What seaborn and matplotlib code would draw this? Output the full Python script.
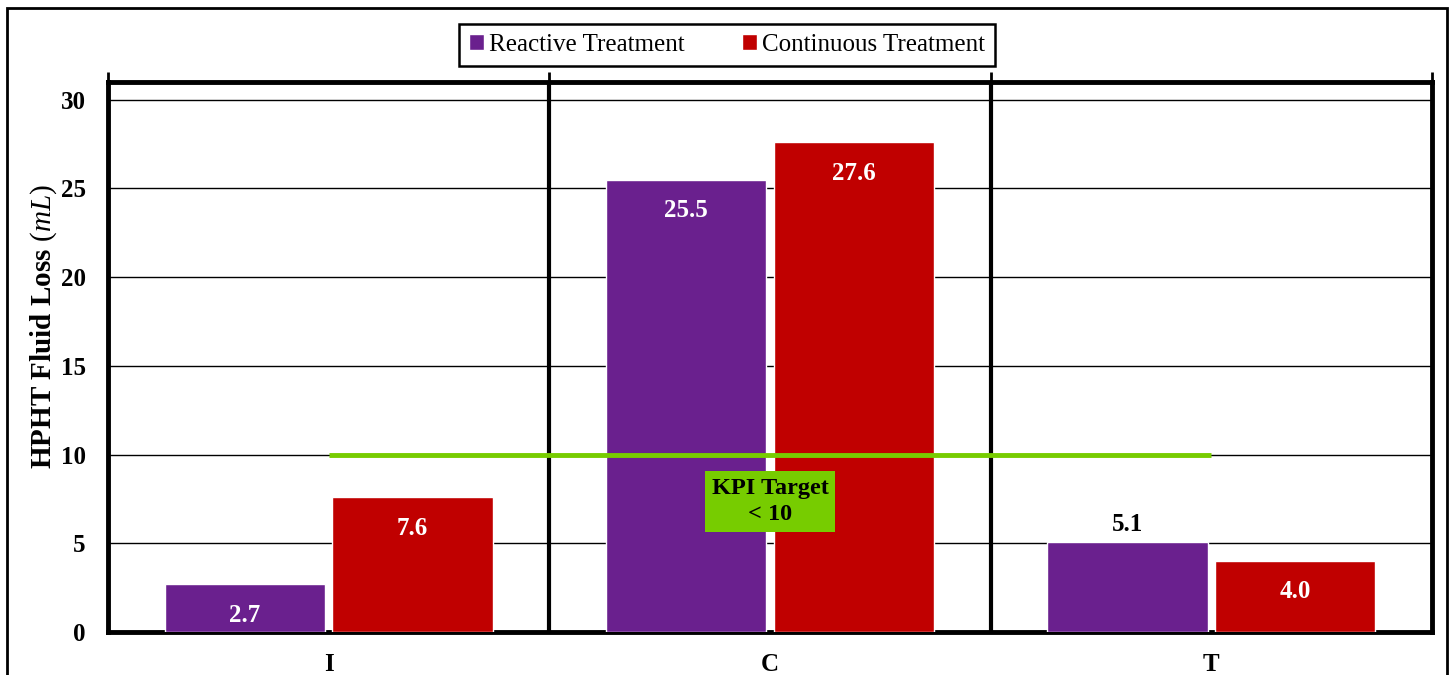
import matplotlib
matplotlib.use("Agg")
import matplotlib.pyplot as plt
from matplotlib.patches import Rectangle
from matplotlib.ticker import FixedLocator
import seaborn as sns
import pandas as pd

# HPHT fluid loss per well section
wells = ["I", "C", "T"]
reactive = [2.7, 25.5, 5.1]
continuous = [7.6, 27.6, 4.0]
series_names = ["Reactive Treatment", "Continuous Treatment"]
kpi_target = 10
y_ticks = [0, 5, 10, 15, 20, 25, 30]

purple = "#6A208E"
red = "#C00000"
green = "#77CC00"

df = pd.DataFrame({
    "Well": wells * 2,
    "Loss": reactive + continuous,
    "Treatment": [series_names[0]] * len(wells) + [series_names[1]] * len(wells),
})

sns.set_theme(style="white")
plt.rcParams["font.family"] = ["Liberation Serif", "DejaVu Serif"]
plt.rcParams["mathtext.fontset"] = "custom"
plt.rcParams["mathtext.it"] = "Liberation Serif:italic"
plt.rcParams["mathtext.rm"] = "Liberation Serif"
plt.rcParams["text.color"] = "black"
plt.rcParams["axes.labelcolor"] = "black"
plt.rcParams["xtick.color"] = "black"
plt.rcParams["ytick.color"] = "black"

fig = plt.figure(figsize=(14.52, 6.75), dpi=100)
ax = fig.add_axes([108 / 1452, 1 - 632 / 675, (1432 - 108) / 1452, (632 - 82) / 675])

sns.barplot(data=df, x="Well", y="Loss", hue="Treatment", order=wells,
            hue_order=series_names, palette=[purple, red], saturation=1,
            width=0.76, gap=0.045, ax=ax, legend=True, zorder=3)

ax.set_xlim(-0.5, 2.5)
ax.set_ylim(0, 31)
ax.set_yticks(y_ticks)
ax.grid(axis="y", color="black", linewidth=1.0, zorder=0)
ax.grid(axis="x", visible=False)

for s in ax.spines.values():
    s.set_color("black")
    s.set_linewidth(3.5)

# category separators
for xb in [0.5, 1.5]:
    ax.axvline(xb, color="black", linewidth=3, zorder=4)
ax.xaxis.set_minor_locator(FixedLocator([-0.5, 0.5, 1.5, 2.5]))
ax.tick_params(axis="x", which="minor", top=True, bottom=False, direction="out",
               length=7, width=2, color="black")
ax.tick_params(axis="x", which="major", length=0, pad=15, labelsize=18)
ax.tick_params(axis="y", length=0, pad=16, labelsize=18)
for lab in ax.get_xticklabels() + ax.get_yticklabels():
    lab.set_fontweight("bold")

ax.set_xlabel("")
ax.set_ylabel("HPHT Fluid Loss $\\mathit{(mL)}$", fontsize=21, fontweight="bold")
ax.yaxis.set_label_coords(-0.037, 0.555)

# value labels
for container, values in zip(ax.containers, [reactive, continuous]):
    for bar, v in zip(container, values):
        xc = bar.get_x() + bar.get_width() / 2
        if v == 5.1:
            ax.annotate(f"{v:.1f}", (xc, v), xytext=(0, 4), textcoords="offset points",
                        ha="center", va="bottom", fontsize=18, fontweight="bold",
                        color="black", zorder=6)
        else:
            ax.annotate(f"{v:.1f}", (xc, v), xytext=(0, -14), textcoords="offset points",
                        ha="center", va="top", fontsize=18, fontweight="bold",
                        color="white", zorder=6)

# KPI target line and tag
ax.plot([0, 2], [kpi_target, kpi_target], color=green, linewidth=3.5, zorder=5,
        solid_capstyle="butt")
ax.text(1.0, 7.35, "KPI Target\n< 10", ha="center", va="center", fontsize=17.5,
        fontweight="bold", color="black", linespacing=1.35, zorder=7,
        bbox=dict(boxstyle="square,pad=0.28", facecolor=green, edgecolor="none"))

# legend
leg = ax.get_legend()
handles = leg.legend_handles
leg.remove()
fig.legend(handles, series_names, loc="center", bbox_to_anchor=(727 / 1452, 1 - 45 / 675),
           ncol=2, frameon=True, fancybox=False, edgecolor="black", framealpha=1,
           fontsize=18, handlelength=0.6, handleheight=0.6, handletextpad=0.2,
           columnspacing=2.3, borderpad=0.4, borderaxespad=0)
fig.legends[0].get_frame().set_linewidth(1.8)

# outer frame
fig.add_artist(Rectangle((7 / 1452, -0.05), (1447 - 7) / 1452, 1 - 8 / 675 + 0.05,
                         transform=fig.transFigure, fill=False, edgecolor="black",
                         linewidth=2))

fig.savefig("out.png", dpi=100)
